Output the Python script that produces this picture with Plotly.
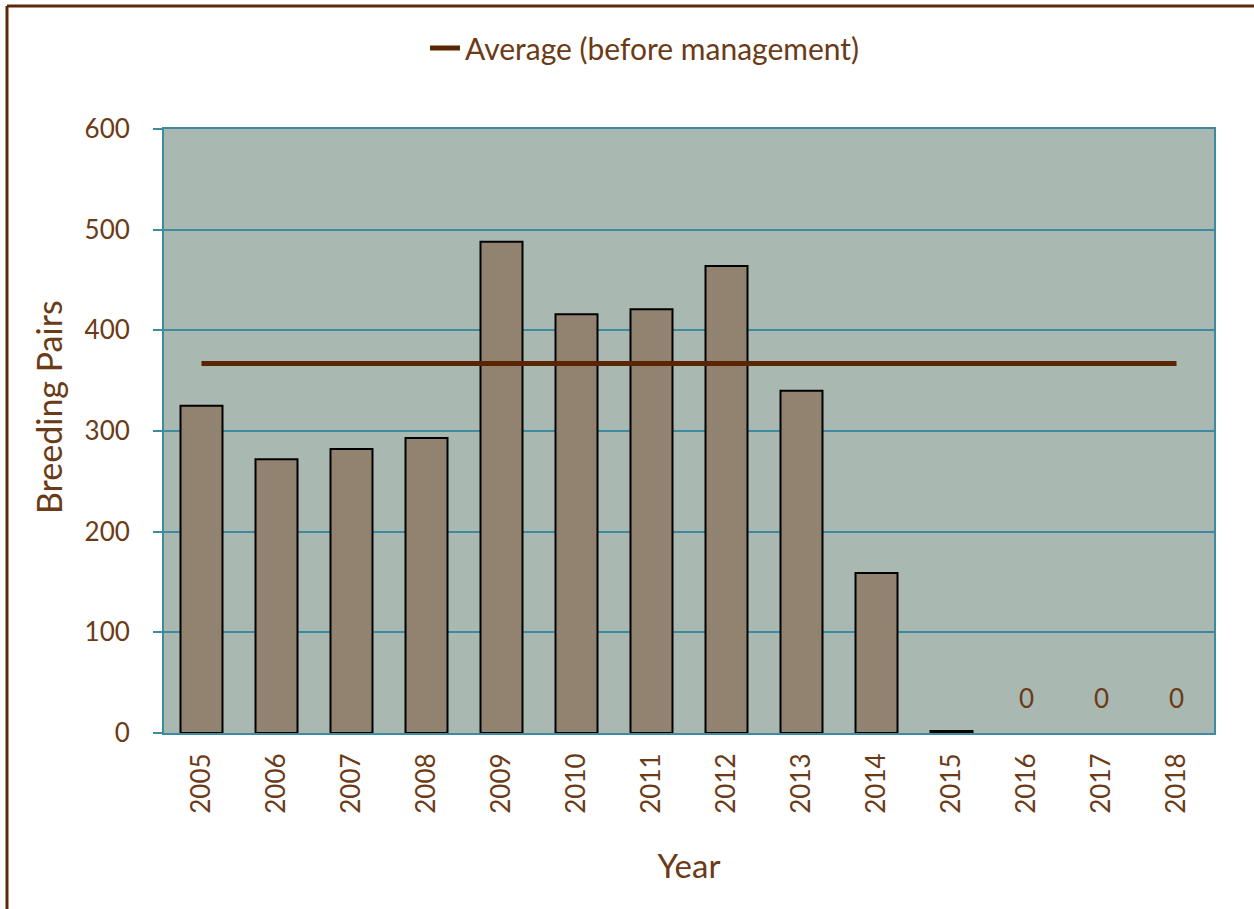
import plotly.graph_objects as go

years = ["2005", "2006", "2007", "2008", "2009", "2010", "2011", "2012",
         "2013", "2014", "2015", "2016", "2017", "2018"]
pairs = [325, 272, 282, 293, 488, 416, 421, 464, 340, 159, 2, 0, 0, 0]
average_before = 367
zero_labels = ["2016", "2017", "2018"]

BROWN = "#6B3A16"
TEAL = "#3E8AA0"
FONT = "Lato"

fig = go.Figure()
fig.add_trace(go.Bar(
    x=years, y=pairs, showlegend=False,
    marker=dict(color="#918370",
                line=dict(color="black", width=[2 if v > 0 else 0 for v in pairs])),
))
fig.add_trace(go.Scatter(
    x=years, y=[average_before] * len(years), mode="lines",
    name="Average (before management)",
    line=dict(color="#5A2500", width=5),
))

for yr in zero_labels:
    i = years.index(yr)
    fig.add_annotation(x=i, y=pairs[i], text="0", showarrow=False,
                       yshift=35, font=dict(family=FONT, size=26, color=BROWN))

# y-axis title (placed slightly above plot centre as in the original)
fig.add_annotation(xref="paper", yref="paper", x=(48 - 164) / 1050, y=(733 - 407) / 604,
                   text="Breeding Pairs", textangle=-90, showarrow=False,
                   xanchor="center", yanchor="middle",
                   font=dict(family=FONT, size=34, color=BROWN))

# outer frame (top + left)
x0 = (7 - 164) / 1050
ytop = (733 - 6) / 604
fig.add_shape(type="line", xref="paper", yref="paper", x0=x0, x1=x0, y0=-0.35, y1=ytop,
              line=dict(color="#5C2A0A", width=3))
fig.add_shape(type="line", xref="paper", yref="paper", x0=x0, x1=1.1, y0=ytop, y1=ytop,
              line=dict(color="#5C2A0A", width=3))

fig.update_layout(
    width=1254, height=909,
    margin=dict(l=164, r=40, t=129, b=176),
    paper_bgcolor="white", plot_bgcolor="#AAB8B2",
    bargap=0.44,
    font=dict(family=FONT, color=BROWN, size=26),
    legend=dict(orientation="h", x=0.2486, xanchor="left", y=(733 - 48) / 604,
                yanchor="middle", font=dict(size=30, color=BROWN),
                bgcolor="rgba(0,0,0,0)"),
    xaxis=dict(type="category", range=[-0.5, len(years) - 0.5],
               tickangle=-90, tickfont=dict(size=26, color=BROWN),
               ticklabelstandoff=8,
               showline=True, linecolor=TEAL, linewidth=2, mirror=True,
               title=dict(text="Year", font=dict(size=33, color=BROWN), standoff=42),
               ticks=""),
    yaxis=dict(range=[0, 600], dtick=100, tickfont=dict(size=26, color=BROWN),
               showline=True, linecolor=TEAL, linewidth=2, mirror=True,
               gridcolor=TEAL, gridwidth=1.5, zeroline=False,
               ticks="outside", ticklen=9, tickcolor=TEAL, tickwidth=2,
               ticklabelstandoff=18),
)

fig.write_html("out.html", config={"displayModeBar": False},
               post_script="document.body.style.margin='0px';")
